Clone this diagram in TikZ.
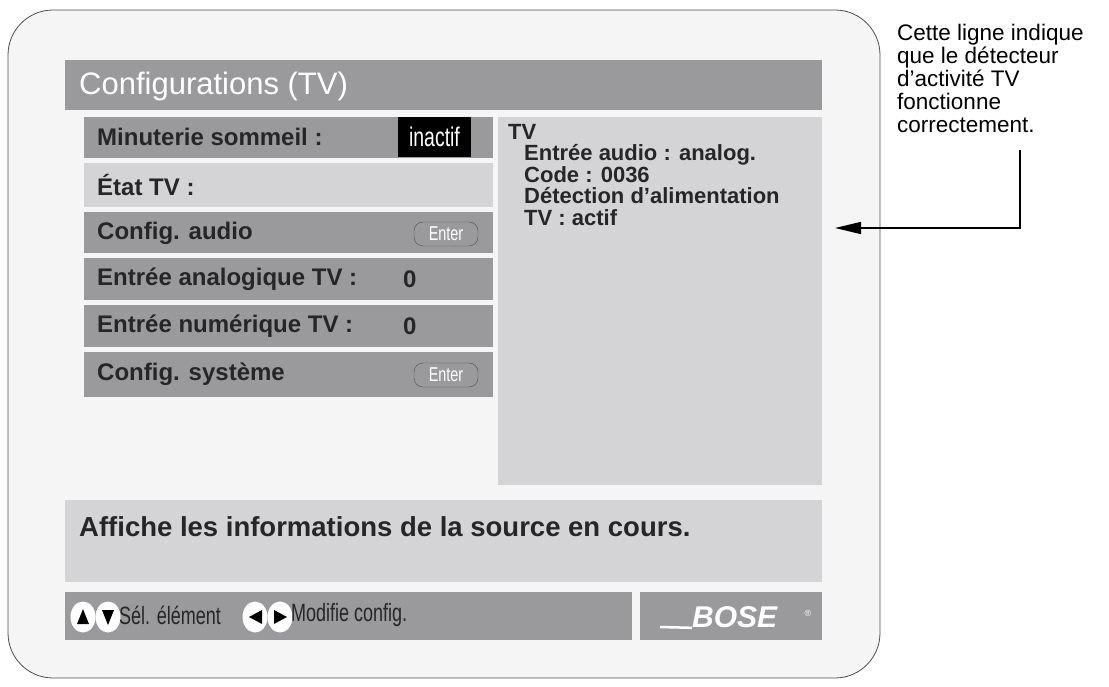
\documentclass[tikz,border=0pt]{standalone}
\usepackage{fontspec}
\setmainfont{Liberation Sans}
\newfontfamily\narrow[FakeStretch=0.72]{Liberation Sans}
\usetikzlibrary{arrows.meta,shapes.geometric}
\definecolor{dg}{HTML}{9A9A9C}
\definecolor{lg}{HTML}{D4D4D6}
\definecolor{bg}{HTML}{F5F5F5}
\tikzset{
  row/.style={fill=dg,draw=none},
  lrow/.style={fill=lg,draw=none},
  rt/.style={anchor=west,inner sep=0,font=\bfseries\fontsize{24}{26}\selectfont,text=black!85},
  enter/.style={draw=black!70,rounded corners=9pt,minimum width=64pt,minimum height=24pt,inner sep=0,font=\narrow\fontsize{20}{20}\selectfont,text=white,fill=dg},
  btn/.style={ellipse,fill=white,minimum width=25pt,minimum height=31pt,inner sep=0},
}
\begin{document}
\begin{tikzpicture}[x=1pt,y=-1pt]
\useasboundingbox (0,0) rectangle (1109,687);
\draw[fill=bg,draw=black!70,line width=0.8pt,rounded corners=45pt] (8,10) rectangle (880,678);
\fill[dg] (65,60) rectangle (822,110);
\node[anchor=west,inner sep=0,text=white,font=\fontsize{31}{33}\selectfont] (title) at (79,86) {Configurations (TV)};
% rows
\fill[row] (84,117) rectangle (493,158);
\fill[lrow] (84,163) rectangle (493,207);
\fill[row] (84,212) rectangle (493,253);
\fill[row] (84,258) rectangle (493,300);
\fill[row] (84,305) rectangle (493,347);
\fill[row] (84,352) rectangle (493,397);
\fill[black] (398,117) rectangle (471,157);
\node[anchor=center,inner sep=0,text=white,font=\narrow\fontsize{27}{28}\selectfont] (inact) at (434.5,137) {inactif};
\node[rt] (r1) at (97,137) {Minuterie sommeil :};
\node[rt] (r2) at (97,185) {État TV :};
\node[rt] (r3) at (97,233) {Config. audio};
\node[rt] (r4) at (97,279) {Entrée analogique TV :};
\node[rt] (r4v) at (403,279) {0};
\node[rt] (r5) at (97,326) {Entrée numérique TV :};
\node[rt] (r5v) at (403,326) {0};
\node[rt] (r6) at (97,374) {Config. système};
\node[enter] (e1) at (446,234) {Enter};
\node[enter] (e2) at (446,375) {Enter};
% right panel
\fill[lg] (498,117) rectangle (822,485);
\node[anchor=north west,inner sep=0,align=left,font=\bfseries\fontsize{22}{21.5}\selectfont,text=black!85] (info) at (508,124)
 {TV\\\hspace*{16pt}Entrée audio : analog.\\\hspace*{16pt}Code : 0036\\\hspace*{16pt}Détection d’alimentation\\\hspace*{16pt}TV : actif};
% message
\fill[lg] (65,500) rectangle (822,582);
\node[anchor=west,inner sep=0,font=\bfseries\fontsize{27.5}{29}\selectfont,text=black!85] (msg) at (79,527) {Affiche les informations de la source en cours.};
% bottom bar
\fill[dg] (65,592) rectangle (632,640);
\fill[dg] (640,592) rectangle (822,640);
\node[btn] (up) at (83,617) {};
\fill[black] (77,624)--(89,624)--(83,609)--cycle;
\node[btn] (dn) at (108,617) {};
\fill[black] (102,610)--(114,610)--(108,625)--cycle;
\node[anchor=west,inner sep=0,font=\narrow\fontsize{25}{26}\selectfont,text=black!85] (sel) at (119,615) {Sél. élément};
\node[btn] (lf) at (255,617) {};
\fill[black] (262,610)--(262,624)--(249,617)--cycle;
\node[btn] (rg) at (280,617) {};
\fill[black] (274,610)--(274,624)--(287,617)--cycle;
\node[anchor=west,inner sep=0,font=\narrow\fontsize{25}{26}\selectfont,text=black!85] (mod) at (291,615) {Modifie config.};
\node[anchor=west,inner sep=0,text=white,font=\bfseries\itshape\fontsize{30}{30}\selectfont] (bose) at (692,617) {BOSE};
\draw[white,line width=2.5pt] (660,627) -- (bose.south west);
\node[inner sep=0,text=white,font=\fontsize{9}{9}\selectfont] (reg) at (808,613) {®};
% annotation
\node[anchor=north west,inner sep=0,align=left,font=\fontsize{22.5}{23}\selectfont] (note) at (897,24)
 {Cette ligne indique\\que le détecteur\\d’activité TV\\fonctionne\\correctement.};
\coordinate (a0) at (1020,150);
\coordinate (a1) at (835,228);
\draw[line width=1.4pt,-{Triangle[length=26pt,width=12pt]}] (a0) |- (a1);
\end{tikzpicture}
\end{document}
